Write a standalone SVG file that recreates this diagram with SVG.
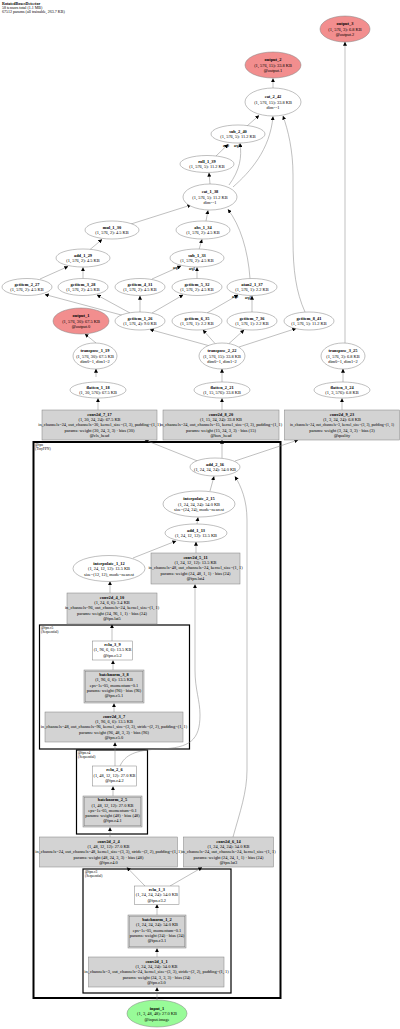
<svg xmlns="http://www.w3.org/2000/svg" width="400" height="1029" viewBox="0 0 400 1029">
<style>
text{font-family:"Liberation Serif","DejaVu Serif",serif;font-size:4.4px;text-anchor:middle;fill:#000}
.h{text-anchor:start;font-size:4px}
.cl{text-anchor:start;font-size:3.6px}
.b{font-weight:bold}
.el{fill:#fff;stroke:#808080;stroke-width:.5}
.out{fill:#f28e8e;stroke:#808080;stroke-width:.5}
.in{fill:#98fb98;stroke:#808080;stroke-width:.5}
.bx{fill:#d3d3d3;stroke:#808080;stroke-width:.5}
.wb{fill:#fff;stroke:#808080;stroke-width:.5}
.cls{fill:none;stroke:#000;stroke-width:1.2}
.e path,.e line{fill:none;stroke:#808080;stroke-width:.5;marker-end:url(#a)}
.lb{font-size:3px;font-weight:bold}
</style>
<defs><marker id="a" viewBox="0 0 6 6" refX="5.5" refY="3" markerWidth="4" markerHeight="4" orient="auto" markerUnits="userSpaceOnUse"><path d="M0,0L6,3L0,6z" fill="#000"/></marker></defs>
<rect width="400" height="1029" fill="#fff"/>
<text class="h b" x="2" y="4.8">RotatedBoxesDetector</text>
<text class="h" x="2" y="8.8">58 tensors total (1.1 MB)</text>
<text class="h" x="2" y="12.8">67512 params (all trainable, 263.7 KB)</text>

<g id="clusters">
<rect class="cls" x="33.5" y="442" width="247" height="556" style="stroke-width:2"/>
<text class="cl" x="35" y="446">@fpn</text><text class="cl" x="35" y="450">(TinyFPN)</text>
<rect class="cls" x="39.5" y="625" width="150" height="124"/>
<text class="cl" x="41" y="629">@fpn.c5</text><text class="cl" x="41" y="633">(Sequential)</text>
<rect class="cls" x="76.5" y="750" width="71" height="84"/>
<text class="cl" x="78" y="754">@fpn.c4</text><text class="cl" x="78" y="758">(Sequential)</text>
<rect class="cls" x="83" y="869" width="148" height="124"/>
<text class="cl" x="85" y="873">@fpn.c3</text><text class="cl" x="85" y="877">(Sequential)</text>
</g>

<g class="e" id="edges">
<line x1="345" y1="343" x2="345" y2="42"/>
<line x1="273" y1="88" x2="273" y2="78.5"/>
<line x1="247" y1="126" x2="259" y2="115.5"/>
<path d="M305,312 C296,292 293,270 293,240 L293,175 C293,150 288,130 283,116"/>
<path d="M233,187 C250,172 270,150 273,116.5"/>
<line x1="216" y1="156" x2="228" y2="144.5"/>
<path d="M229,185 C240,170 242,157 240,143.5"/>
<line x1="210" y1="184" x2="209" y2="173"/>
<line x1="131" y1="224" x2="191" y2="205"/>
<line x1="206" y1="221" x2="208" y2="210.5"/>
<path d="M250,278.5 C248,250 240,225 228,209.5"/>
<line x1="90" y1="249.5" x2="102" y2="239.5"/>
<line x1="199" y1="249.5" x2="202" y2="239.5"/>
<line x1="40" y1="279" x2="68" y2="266.5"/>
<line x1="83" y1="278.5" x2="83" y2="267.5"/>
<line x1="152" y1="279" x2="181" y2="266"/>
<line x1="197" y1="278.5" x2="197" y2="267.5"/>
<line x1="207" y1="313" x2="238" y2="295"/>
<line x1="252" y1="312.5" x2="252" y2="296"/>
<line x1="125" y1="316" x2="45" y2="294.5"/>
<line x1="130" y1="313" x2="97" y2="295"/>
<line x1="140" y1="312" x2="140" y2="296"/>
<line x1="152" y1="313" x2="183" y2="295"/>
<line x1="210" y1="346" x2="150" y2="329.5"/>
<line x1="215" y1="343.5" x2="203" y2="330"/>
<line x1="229" y1="343.5" x2="244" y2="330"/>
<line x1="239" y1="347" x2="296" y2="328.5"/>
<line x1="96" y1="343" x2="85" y2="334"/>
<line x1="96" y1="377" x2="96" y2="369"/>
<line x1="222" y1="382" x2="222" y2="369"/>
<line x1="343" y1="382" x2="343" y2="369"/>
<line x1="98" y1="410" x2="98" y2="398.5"/>
<line x1="222" y1="410" x2="222" y2="398.5"/>
<line x1="342" y1="410" x2="342" y2="398.5"/>
<line x1="200" y1="462" x2="145" y2="440"/>
<line x1="222" y1="458" x2="222" y2="440"/>
<line x1="235" y1="461" x2="298" y2="440"/>
<line x1="210" y1="491" x2="214" y2="476.5"/>
<line x1="197" y1="524" x2="198" y2="517.5"/>
<path d="M233,837 C240,812 247,792 247,770 L247,520 C247,500 241,486 235,476.5"/>
<line x1="133" y1="558" x2="176" y2="541"/>
<line x1="196" y1="553" x2="196" y2="542"/>
<line x1="110" y1="593" x2="110" y2="581.5"/>
<line x1="112" y1="641" x2="112" y2="624.5"/>
<line x1="113" y1="670" x2="113" y2="660.5"/>
<line x1="114" y1="712" x2="114" y2="703.5"/>
<line x1="115" y1="766" x2="115" y2="742.5"/>
<path d="M120,766 C125,755 135,750 160,749 C190,748 200,740 200,715 C200,700 195,690 195,670 L195,584.5"/>
<line x1="113" y1="796" x2="113" y2="786.5"/>
<line x1="110" y1="837" x2="110" y2="827.5"/>
<line x1="145" y1="886" x2="127" y2="867.5"/>
<line x1="170" y1="886" x2="202" y2="867.5"/>
<line x1="157" y1="915" x2="157" y2="904.5"/>
<line x1="157" y1="957" x2="157" y2="948.5"/>
<line x1="157" y1="1000" x2="157" y2="987.5"/>
<text class="lb" x="226" y="147">arg0</text>
<text class="lb" x="237" y="147">arg1</text>
<text class="lb" x="176" y="269">arg0</text>
<text class="lb" x="192" y="270">arg1</text>
<text class="lb" x="235" y="298">arg0</text>
<text class="lb" x="248" y="299">arg1</text>
</g>

<g id="output_3"><ellipse class="out" cx="345" cy="29" rx="25" ry="13"/><text x="345" y="25" class="b">output_3</text><text x="345" y="30.6">(1, 576, 3): 6.8 KB</text><text x="345" y="36.2">@output.2</text></g>
<g id="output_2"><ellipse class="out" cx="273" cy="65" rx="28" ry="13"/><text x="273" y="61" class="b">output_2</text><text x="273" y="66.6">(1, 576, 15): 33.8 KB</text><text x="273" y="72.2">@output.1</text></g>
<g id="cat_2_42"><ellipse class="el" cx="273" cy="102" rx="28" ry="14"/><text x="273" y="98" class="b">cat_2_42</text><text x="273" y="103.6">(1, 576, 15): 33.8 KB</text><text x="273" y="109.2">dim=-1</text></g>
<g id="sub_2_40"><ellipse class="el" cx="238" cy="134" rx="27" ry="9"/><text x="238" y="132.8" class="b">sub_2_40</text><text x="238" y="138.4">(1, 576, 5): 11.2 KB</text></g>
<g id="roll_1_39"><ellipse class="el" cx="207" cy="164" rx="27" ry="8.5"/><text x="207" y="162.8" class="b">roll_1_39</text><text x="207" y="168.4">(1, 576, 5): 11.2 KB</text></g>
<g id="cat_1_38"><ellipse class="el" cx="210" cy="197" rx="27" ry="13"/><text x="210" y="193" class="b">cat_1_38</text><text x="210" y="198.6">(1, 576, 5): 11.2 KB</text><text x="210" y="204.2">dim=-1</text></g>
<g id="mul_1_30"><ellipse class="el" cx="112" cy="230" rx="27" ry="9"/><text x="112" y="228.8" class="b">mul_1_30</text><text x="112" y="234.4">(1, 576, 2): 4.5 KB</text></g>
<g id="abs_1_34"><ellipse class="el" cx="203" cy="230" rx="27" ry="9"/><text x="203" y="228.8" class="b">abs_1_34</text><text x="203" y="234.4">(1, 576, 2): 4.5 KB</text></g>
<g id="add_1_29"><ellipse class="el" cx="83" cy="258" rx="27" ry="9"/><text x="83" y="256.8" class="b">add_1_29</text><text x="83" y="262.4">(1, 576, 2): 4.5 KB</text></g>
<g id="sub_1_33"><ellipse class="el" cx="197" cy="258" rx="27" ry="9"/><text x="197" y="256.8" class="b">sub_1_33</text><text x="197" y="262.4">(1, 576, 2): 4.5 KB</text></g>
<g id="getitem_2_27"><ellipse class="el" cx="27" cy="287" rx="25" ry="8.5"/><text x="27" y="285.8" class="b">getitem_2_27</text><text x="27" y="291.4">(1, 576, 2): 4.5 KB</text></g>
<g id="getitem_3_28"><ellipse class="el" cx="83" cy="287" rx="25" ry="8.5"/><text x="83" y="285.8" class="b">getitem_3_28</text><text x="83" y="291.4">(1, 576, 2): 4.5 KB</text></g>
<g id="getitem_4_31"><ellipse class="el" cx="140" cy="287" rx="25" ry="8.5"/><text x="140" y="285.8" class="b">getitem_4_31</text><text x="140" y="291.4">(1, 576, 2): 4.5 KB</text></g>
<g id="getitem_5_32"><ellipse class="el" cx="197" cy="287" rx="25" ry="8.5"/><text x="197" y="285.8" class="b">getitem_5_32</text><text x="197" y="291.4">(1, 576, 2): 4.5 KB</text></g>
<g id="atan2_1_37"><ellipse class="el" cx="252" cy="287" rx="25" ry="8.5"/><text x="252" y="285.8" class="b">atan2_1_37</text><text x="252" y="291.4">(1, 576, 1): 2.2 KB</text></g>
<g id="output_1"><ellipse class="out" cx="81" cy="321" rx="28" ry="13"/><text x="81" y="317" class="b">output_1</text><text x="81" y="322.6">(1, 576, 30): 67.5 KB</text><text x="81" y="328.2">@output.0</text></g>
<g id="getitem_1_26"><ellipse class="el" cx="140" cy="321" rx="25" ry="9"/><text x="140" y="319.8" class="b">getitem_1_26</text><text x="140" y="325.4">(1, 576, 4): 9.0 KB</text></g>
<g id="getitem_6_35"><ellipse class="el" cx="197" cy="321" rx="25" ry="9"/><text x="197" y="319.8" class="b">getitem_6_35</text><text x="197" y="325.4">(1, 576, 1): 2.2 KB</text></g>
<g id="getitem_7_36"><ellipse class="el" cx="252" cy="321" rx="25" ry="9"/><text x="252" y="319.8" class="b">getitem_7_36</text><text x="252" y="325.4">(1, 576, 1): 2.2 KB</text></g>
<g id="getitem_8_41"><ellipse class="el" cx="309" cy="321" rx="25" ry="9"/><text x="309" y="319.8" class="b">getitem_8_41</text><text x="309" y="325.4">(1, 576, 5): 11.2 KB</text></g>
<g id="transpose_1_19"><ellipse class="el" cx="95" cy="356" rx="22" ry="13"/><text x="95" y="352" class="b">transpose_1_19</text><text x="95" y="357.6">(1, 576, 30): 67.5 KB</text><text x="95" y="363.2">dim0=1, dim1=2</text></g>
<g id="transpose_2_22"><ellipse class="el" cx="222" cy="356" rx="23" ry="13"/><text x="222" y="352" class="b">transpose_2_22</text><text x="222" y="357.6">(1, 576, 15): 33.8 KB</text><text x="222" y="363.2">dim0=1, dim1=2</text></g>
<g id="transpose_3_25"><ellipse class="el" cx="343" cy="356" rx="22" ry="13"/><text x="343" y="352" class="b">transpose_3_25</text><text x="343" y="357.6">(1, 576, 3): 6.8 KB</text><text x="343" y="363.2">dim0=1, dim1=2</text></g>
<g id="flatten_1_18"><ellipse class="el" cx="98" cy="390" rx="28" ry="8"/><text x="98" y="388.8" class="b">flatten_1_18</text><text x="98" y="394.4">(1, 30, 576): 67.5 KB</text></g>
<g id="flatten_2_21"><ellipse class="el" cx="222" cy="390" rx="28" ry="8"/><text x="222" y="388.8" class="b">flatten_2_21</text><text x="222" y="394.4">(1, 15, 576): 33.8 KB</text></g>
<g id="flatten_3_24"><ellipse class="el" cx="342" cy="390" rx="28" ry="8"/><text x="342" y="388.8" class="b">flatten_3_24</text><text x="342" y="394.4">(1, 3, 576): 6.8 KB</text></g>

<g id="conv2d_7_17"><rect class="bx" x="42" y="410" width="115" height="30"/><text x="99.5" y="415.6" class="b">conv2d_7_17</text><text x="99.5" y="420.9">(1, 30, 24, 24): 67.5 KB</text><text x="99.5" y="426.2">in_channels=24, out_channels=30, kernel_size=(3, 3), padding=(1, 1)</text><text x="99.5" y="431.5">params: weight (30, 24, 3, 3) · bias (30)</text><text x="99.5" y="436.8">@cls_head</text></g>
<g id="conv2d_8_20"><rect class="bx" x="163" y="410" width="116" height="30"/><text x="221" y="415.6" class="b">conv2d_8_20</text><text x="221" y="420.9">(1, 15, 24, 24): 33.8 KB</text><text x="221" y="426.2">in_channels=24, out_channels=15, kernel_size=(3, 3), padding=(1, 1)</text><text x="221" y="431.5">params: weight (15, 24, 3, 3) · bias (15)</text><text x="221" y="436.8">@box_head</text></g>
<g id="conv2d_9_23"><rect class="bx" x="284.5" y="410" width="115" height="30"/><text x="342" y="415.6" class="b">conv2d_9_23</text><text x="342" y="420.9">(1, 3, 24, 24): 6.8 KB</text><text x="342" y="426.2" style="font-size:3.8px">in_channels=24, out_channels=3, kernel_size=(3, 3), padding=(1, 1)</text><text x="342" y="431.5">params: weight (3, 24, 3, 3) · bias (3)</text><text x="342" y="436.8">@quality</text></g>

<g id="add_2_16"><ellipse class="el" cx="215" cy="467" rx="25" ry="9"/><text x="215" y="465.8" class="b">add_2_16</text><text x="215" y="471.4">(1, 24, 24, 24): 54.0 KB</text></g>
<g id="interpolate_2_15"><ellipse class="el" cx="199" cy="504" rx="36" ry="13"/><text x="199" y="500" class="b">interpolate_2_15</text><text x="199" y="505.6">(1, 24, 24, 24): 54.0 KB</text><text x="199" y="511.2">size=(24, 24), mode=nearest</text></g>
<g id="add_1_13"><ellipse class="el" cx="196" cy="533" rx="31" ry="9"/><text x="196" y="531.8" class="b">add_1_13</text><text x="196" y="537.4">(1, 24, 12, 12): 13.5 KB</text></g>
<g id="interpolate_1_12"><ellipse class="el" cx="109" cy="568.5" rx="36" ry="13"/><text x="109" y="564.5" class="b">interpolate_1_12</text><text x="109" y="570.1">(1, 24, 12, 12): 13.5 KB</text><text x="109" y="575.7">size=(12, 12), mode=nearest</text></g>
<g id="conv2d_5_11"><rect class="bx" x="151" y="553" width="89" height="31"/><text x="195.5" y="558.6" class="b">conv2d_5_11</text><text x="195.5" y="563.9">(1, 24, 12, 12): 13.5 KB</text><text x="195.5" y="569.2">in_channels=48, out_channels=24, kernel_size=(1, 1)</text><text x="195.5" y="574.5">params: weight (24, 48, 1, 1) · bias (24)</text><text x="195.5" y="579.8">@fpn.lat4</text></g>
<g id="conv2d_4_10"><rect class="bx" x="67" y="593" width="90" height="31"/><text x="112" y="598.6" class="b">conv2d_4_10</text><text x="112" y="603.9">(1, 24, 6, 6): 3.4 KB</text><text x="112" y="609.2">in_channels=96, out_channels=24, kernel_size=(1, 1)</text><text x="112" y="614.5">params: weight (24, 96, 1, 1) · bias (24)</text><text x="112" y="619.8">@fpn.lat5</text></g>
<g id="relu_3_9"><rect class="wb" x="92.5" y="641" width="40" height="19"/><text x="112.5" y="646" class="b">relu_3_9</text><text x="112.5" y="651.4">(1, 96, 6, 6): 13.5 KB</text><text x="112.5" y="656.8">@fpn.c5.2</text></g>
<g id="batchnorm_3_8"><rect class="bx" x="84" y="670" width="60" height="33"/><rect x="85.2" y="671.2" width="57.6" height="30.6" fill="none" stroke="#808080" stroke-width=".5"/><text x="114" y="676" class="b">batchnorm_3_8</text><text x="114" y="681.3">(1, 96, 6, 6): 13.5 KB</text><text x="114" y="686.6">eps=1e-05, momentum=0.1</text><text x="114" y="691.9">params: weight (96) · bias (96)</text><text x="114" y="697.2">@fpn.c5.1</text></g>
<g id="conv2d_3_7"><rect class="bx" x="45" y="712" width="138" height="30"/><text x="114" y="717.6" class="b">conv2d_3_7</text><text x="114" y="722.9">(1, 96, 6, 6): 13.5 KB</text><text x="114" y="728.2">in_channels=48, out_channels=96, kernel_size=(3, 3), stride=(2, 2), padding=(1, 1)</text><text x="114" y="733.5">params: weight (96, 48, 3, 3) · bias (96)</text><text x="114" y="738.8">@fpn.c5.0</text></g>
<g id="relu_2_6"><rect class="wb" x="92.5" y="766" width="44" height="20"/><text x="114.5" y="771.3" class="b">relu_2_6</text><text x="114.5" y="776.7">(1, 48, 12, 12): 27.0 KB</text><text x="114.5" y="782.1">@fpn.c4.2</text></g>
<g id="batchnorm_2_5"><rect class="bx" x="83" y="796" width="59" height="31"/><rect x="84.2" y="797.2" width="56.6" height="28.6" fill="none" stroke="#808080" stroke-width=".5"/><text x="112.5" y="801.2" class="b">batchnorm_2_5</text><text x="112.5" y="806.5">(1, 48, 12, 12): 27.0 KB</text><text x="112.5" y="811.8">eps=1e-05, momentum=0.1</text><text x="112.5" y="817.1">params: weight (48) · bias (48)</text><text x="112.5" y="822.4">@fpn.c4.1</text></g>
<g id="conv2d_2_4"><rect class="bx" x="39.5" y="837" width="138" height="30"/><text x="108.5" y="842.6" class="b">conv2d_2_4</text><text x="108.5" y="847.9">(1, 48, 12, 12): 27.0 KB</text><text x="108.5" y="853.2">in_channels=24, out_channels=48, kernel_size=(3, 3), stride=(2, 2), padding=(1, 1)</text><text x="108.5" y="858.5">params: weight (48, 24, 3, 3) · bias (48)</text><text x="108.5" y="863.8">@fpn.c4.0</text></g>
<g id="conv2d_6_14"><rect class="bx" x="183.5" y="837" width="90" height="30"/><text x="228.5" y="842.6" class="b">conv2d_6_14</text><text x="228.5" y="847.9">(1, 24, 24, 24): 54.0 KB</text><text x="228.5" y="853.2">in_channels=24, out_channels=24, kernel_size=(1, 1)</text><text x="228.5" y="858.5">params: weight (24, 24, 1, 1) · bias (24)</text><text x="228.5" y="863.8">@fpn.lat3</text></g>
<g id="relu_1_3"><rect class="wb" x="134.5" y="886" width="44.5" height="18.5"/><text x="156.8" y="890.8" class="b">relu_1_3</text><text x="156.8" y="896.2">(1, 24, 24, 24): 54.0 KB</text><text x="156.8" y="901.6">@fpn.c3.2</text></g>
<g id="batchnorm_1_2"><rect class="bx" x="128" y="915" width="58" height="33"/><rect x="129.2" y="916.2" width="55.6" height="30.6" fill="none" stroke="#808080" stroke-width=".5"/><text x="157" y="921" class="b">batchnorm_1_2</text><text x="157" y="926.3">(1, 24, 24, 24): 54.0 KB</text><text x="157" y="931.6">eps=1e-05, momentum=0.1</text><text x="157" y="936.9">params: weight (24) · bias (24)</text><text x="157" y="942.2">@fpn.c3.1</text></g>
<g id="conv2d_1_1"><rect class="bx" x="88.5" y="957" width="135.5" height="30"/><text x="156.5" y="962.6" class="b">conv2d_1_1</text><text x="156.5" y="967.9">(1, 24, 24, 24): 54.0 KB</text><text x="156.5" y="973.2">in_channels=3, out_channels=24, kernel_size=(3, 3), stride=(2, 2), padding=(1, 1)</text><text x="156.5" y="978.5">params: weight (24, 3, 3, 3) · bias (24)</text><text x="156.5" y="983.8">@fpn.c3.0</text></g>
<g id="input_1"><ellipse class="in" cx="157" cy="1013.5" rx="30" ry="13.5"/><text x="157" y="1009.5" class="b">input_1</text><text x="157" y="1015.1">(1, 3, 48, 48): 27.0 KB</text><text x="157" y="1020.7">@input.image</text></g>
</svg>
